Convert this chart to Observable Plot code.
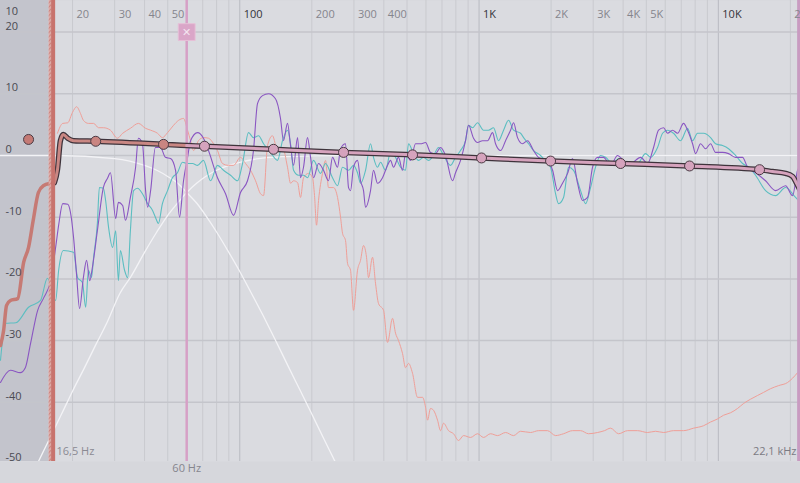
<!DOCTYPE html>
<html><head><meta charset="utf-8">
<script src="https://cdn.jsdelivr.net/npm/d3@7"></script>
<script src="https://cdn.jsdelivr.net/npm/@observablehq/plot@0.6"></script>
<style>html,body{margin:0;padding:0;background:#d6d7dc;overflow:hidden}</style>
</head><body><div id="chart"></div>
<script>
// ---- tick labels / grid ----
const xLabelMinor = [[20,"20"],[30,"30"],[40,"40"],[50,"50"],[200,"200"],[300,"300"],[400,"400"],[2000,"2K"],[3000,"3K"],[4000,"4K"],[5000,"5K"],[20000,"20K"]];
const xLabelMajor = [[100,"100"],[1000,"1K"],[10000,"10K"]];
const xGridMinor = [20,30,40,50,70,80,90,200,300,400,500,600,700,800,900,2000,3000,4000,5000,6000,7000,8000,9000,20000];
const xGridMajor = [100,1000,10000];
const yGrid = [20,10,0,-10,-20,-30,-40];
const yLabels = [20,10,0,-10,-20,-30,-40,-50];
const topCornerLabel = ["10"];
const crossoverHz = [60];
const lowLimitHz = 16.5, highLimitHz = 22050;

// ---- series: [Hz, dB] ----
const purple = [[10.0,-36.8],[11.0,-34.8],[12.1,-35.2],[12.7,-34.4],[13.35,-30.5],[14.3,-25.1],[15.1,-23.2],[16.2,-20.3],[17.0,-14.9],[17.5,-11.3],[18.2,-7.8],[19.1,-7.9],[19.6,-9.2],[20.2,-13.3],[20.8,-19.4],[21.4,-24.8],[22.2,-19.8],[22.9,-17.0],[23.6,-20.3],[24.2,-18.2],[25.4,-12.2],[26.9,-5.2],[28.0,-3.7],[28.8,-2.8],[30.3,-10.2],[31.1,-7.6],[32.4,-8.1],[33.3,-10.5],[34.9,-6.8],[36.7,-1.9],[37.7,2.8],[39.2,1.9],[40.4,-5.7],[41.2,-8.4],[42.4,-5.7],[44.4,1.3],[46.6,1.3],[48.9,-0.3],[51.4,-0.5],[53.9,-2.4],[56.0,-10.0],[58.2,-4.1],[60.5,-0.3],[62.3,2.4],[66.6,3.7],[70.5,2.8],[74.0,0.8],[80.7,-3.6],[87.2,-6.2],[94.2,-9.7],[100.7,-6.0],[107.7,-4.1],[114.1,0.8],[118.6,8.4],[124.5,9.7],[131.9,10.0],[141.0,9.2],[148.0,6.0],[152.3,2.4],[158.3,5.2],[163.0,1.6],[167.8,-1.6],[174.4,2.9],[179.4,-3.6],[184.7,-1.9],[191.9,2.9],[197.6,-0.3],[203.4,-3.6],[213.4,-1.3],[223.9,-2.4],[234.9,-4.1],[244.1,-0.3],[256.2,-1.9],[263.7,1.1],[276.7,1.9],[284.8,-5.2],[290.3,-5.7],[298.8,-1.9],[310.5,-0.8],[319.6,-4.1],[329.0,-5.7],[335.4,-8.4],[351.9,-5.7],[362.2,-2.4],[376.4,-4.5],[395.0,-3.6],[414.5,-1.6],[426.6,-0.8],[439.1,-1.9],[460.7,-0.3],[478.8,-2.4],[492.9,0.3],[517.2,-0.8],[542.7,1.9],[569.4,1.9],[597.5,2.1],[626.9,0.5],[657.8,0.3],[690.3,1.3],[724.3,0.0],[774.7,-4.1],[797.5,-2.8],[836.8,-0.8],[878.1,2.4],[903.7,4.9],[948.3,2.8],[985.5,2.1],[1034,2.4],[1085,2.4],[1139,3.7],[1172,1.9],[1230,0.8],[1291,2.4],[1354,4.1],[1394,5.3],[1448,2.9],[1520,1.9],[1595,2.4],[1689,0.8],[1772,-0.3],[1933,-0.8],[2029,-2.4],[2129,-5.7],[2233,-4.5],[2344,-2.9],[2459,-0.5],[2580,-4.5],[2707,-7.3],[2841,-6.8],[2981,-1.9],[3128,-0.3],[3313,-0.3],[3545,-1.6],[3792,0.0],[4017,-0.8],[4297,-1.3],[4731,-0.3],[5061,-1.3],[5362,1.3],[5626,4.1],[5904,4.5],[6136,3.6],[6438,4.1],[6755,3.6],[7157,5.2],[7438,4.1],[7804,1.9],[8032,0.3],[8429,1.9],[8845,1.1],[9280,1.9],[9738,0.5],[10416,0.5],[11035,0.3],[11805,-0.3],[12626,-0.3],[13249,-1.9],[14310,-2.8],[15756,-4.1],[17348,-5.7],[19100,-4.9],[20431,-6.5],[21439,-2.4],[22000,-1.6]];

const teal = [[10.0,-33.2],[10.5,-27.2],[11.6,-27.1],[13.1,-24.6],[14.7,-23.5],[15.7,-19.9],[17.0,-23.5],[17.5,-18.6],[18.3,-15.4],[20.2,-15.7],[21.0,-19.8],[22.0,-20.6],[22.7,-24.6],[23.3,-18.6],[24.0,-19.8],[24.5,-16.5],[25.4,-11.0],[25.9,-5.2],[26.9,-5.3],[27.5,-7.3],[28.3,-11.7],[29.4,-14.9],[30.3,-12.2],[31.1,-20.3],[31.7,-15.4],[33.0,-18.6],[34.0,-19.8],[34.9,-12.2],[36.0,-5.7],[37.4,-5.3],[39.2,-6.2],[41.2,-7.8],[43.2,-8.9],[44.4,-10.0],[45.7,-11.0],[47.5,-7.8],[49.9,-5.7],[52.3,-3.6],[54.9,-2.8],[57.6,-1.1],[60.5,-1.3],[63.5,-1.3],[66.6,-1.6],[70.5,-0.8],[75.5,-4.1],[80.7,-1.6],[85.5,-2.4],[91.5,-3.2],[97.9,-4.1],[102.7,-1.3],[108.8,3.7],[114.1,2.9],[119.8,3.2],[125.7,1.9],[134.4,0.5],[143.8,-0.8],[150.9,2.4],[158.3,4.1],[163.0,1.9],[167.8,-2.4],[176.0,-3.2],[184.7,-3.2],[191.9,-3.6],[203.4,-0.8],[217.5,-2.9],[228.2,-1.3],[244.1,-3.6],[256.2,-4.9],[268.8,-1.9],[284.8,-2.4],[298.8,-1.6],[310.5,-2.8],[319.6,-4.5],[335.4,-2.4],[351.9,1.9],[362.2,-0.3],[376.4,-1.9],[387.5,-1.1],[406.6,-2.4],[426.6,0.5],[447.6,-0.3],[469.7,-1.9],[492.9,-2.4],[507.3,1.9],[532.4,0.3],[558.6,-0.8],[586.1,-0.3],[615.0,-0.8],[645.3,0.0],[677.1,1.3],[710.5,0.0],[760.0,-1.6],[797.5,-0.3],[836.8,0.8],[878.1,2.4],[903.7,4.9],[939.2,4.5],[985.5,5.3],[1044,4.1],[1095,4.1],[1150,4.5],[1206,2.4],[1266,4.1],[1328,5.7],[1394,4.1],[1491,3.6],[1535,2.9],[1610,1.9],[1689,0.8],[1807,0.0],[1933,-1.3],[1990,-1.9],[2088,-6.2],[2149,-7.8],[2255,-6.8],[2366,-1.9],[2483,-2.4],[2656,-5.7],[2787,-7.8],[2924,-5.2],[3068,-1.9],[3219,0.0],[3378,-0.3],[3614,-1.3],[3829,-0.5],[4175,-1.3],[4596,-1.3],[4964,0.3],[5209,-0.3],[5572,1.3],[5847,3.6],[6136,4.1],[6500,3.6],[6953,2.4],[7438,4.4],[7804,2.4],[8188,3.6],[8676,3.6],[9280,2.9],[9738,1.9],[10416,1.6],[11035,1.1],[11805,0.0],[12626,-1.3],[13377,-1.9],[14310,-3.2],[15756,-5.7],[17348,-6.5],[19100,-5.2],[21030,-6.8],[22000,-7.6]];

const reference = [[17.3,3.6],[18.2,5.2],[19.1,5.3],[20.0,7.0],[20.8,7.9],[21.6,6.8],[22.2,5.7],[23.3,5.2],[24.5,5.2],[25.7,4.5],[26.9,4.5],[28.8,4.1],[30.8,2.8],[32.4,3.6],[34.9,4.4],[37.7,5.2],[40.4,4.4],[42.4,4.1],[45.3,3.6],[47.5,2.9],[49.9,3.7],[52.9,4.9],[55.5,5.7],[58.2,6.0],[60.5,4.1],[62.3,2.4],[64.1,0.8],[67.2,2.4],[70.5,2.9],[74.0,2.8],[77.7,1.9],[80.7,0.8],[84.7,-1.3],[89.7,-1.6],[94.2,-1.6],[100.7,-0.3],[105.7,-1.3],[110.9,-2.4],[116.4,-4.1],[122.1,-6.2],[125.7,-6.5],[130.6,1.6],[137.0,3.2],[143.8,0.8],[150.9,1.3],[158.3,-1.9],[163.0,-4.5],[167.8,-4.1],[174.4,-4.4],[179.4,-6.8],[184.7,-3.6],[193.8,-2.9],[201.4,-3.6],[205.3,-6.5],[209.3,-11.3],[213.4,-7.3],[221.7,-2.9],[228.2,-0.8],[234.9,-5.2],[246.5,-5.2],[256.2,-6.8],[263.7,-10.0],[268.8,-12.6],[276.7,-13.8],[282.1,-17.5],[290.3,-18.6],[298.8,-25.1],[310.5,-18.6],[319.6,-17.0],[329.0,-14.6],[338.6,-16.5],[345.2,-19.8],[358.7,-16.5],[369.2,-20.7],[380.1,-24.0],[398.9,-25.1],[414.5,-30.3],[434.9,-26.4],[447.6,-28.8],[460.7,-30.0],[478.8,-32.1],[492.9,-34.4],[507.3,-33.7],[527.2,-35.3],[553.2,-39.2],[580.4,-39.2],[597.5,-40.8],[609.1,-42.9],[626.9,-41.0],[645.3,-41.3],[670.6,-42.9],[690.3,-44.6],[710.5,-43.4],[745.5,-44.6],[782.3,-45.1],[820.8,-46.2],[861.3,-45.4],[921.3,-45.7],[985.5,-45.1],[1044,-45.7],[1117,-45.1],[1195,-45.4],[1291,-44.9],[1394,-45.4],[1491,-44.7],[1641,-44.9],[1772,-44.6],[1933,-44.6],[2088,-45.4],[2255,-45.1],[2459,-44.6],[2656,-44.6],[2868,-45.1],[3128,-44.9],[3345,-44.6],[3545,-44.2],[3829,-45.1],[4175,-44.6],[4596,-44.6],[5061,-44.9],[5466,-44.7],[5904,-44.9],[6500,-44.6],[7157,-44.6],[7879,-44.2],[8676,-43.8],[9280,-43.2],[9927,-42.7],[10517,-42.1],[11250,-41.7],[12034,-41.0],[12749,-40.2],[13638,-39.5],[14588,-38.9],[15456,-38.4],[16533,-37.8],[17856,-37.3],[19471,-36.8],[20431,-36.1],[21439,-35.2]];

const lowpass = [[10,0],[17,0],[30,-0.5],[40,-1.6],[45,-2.4],[50,-3.4],[55,-4.5],[60,-6.0],[66,-7.7],[72,-9.7],[80,-12.4],[90,-15.7],[100,-18.8],[110,-21.8],[125,-25.9],[140,-29.7],[160,-34.3],[180,-38.3],[200,-41.9],[225,-46.0],[250,-49.6],[260,-51.0]];
const highpass = [[14,-50.6],[15,-48.2],[16,-46.0],[18,-41.9],[20,-38.2],[22.5,-34.3],[25,-30.7],[28,-26.9],[31.5,-22.4],[35,-19.7],[40,-15.7],[45,-12.4],[50,-9.7],[55,-7.7],[60,-6.0],[66,-4.5],[72,-3.4],[80,-2.4],[90,-1.6],[100,-1.1],[120,-0.5],[150,-0.2],[200,-0.07],[300,0],[22050,0]];

const eqBelowLimit = [[10.0,-30.8],[10.3,-28.4],[10.6,-24.3],[11.0,-23.5],[11.8,-23.2],[12.5,-17.3],[13.1,-14.9],[13.7,-10.5],[14.4,-6.0],[15.1,-4.9],[16.2,-4.5],[16.8,-4.4]];
const eqLowBand = [[16.8,-4.4],[17.3,-2.3],[17.8,2.4],[18.3,3.4],[19.1,2.8],[20.2,2.4],[25.0,2.3],[48.0,1.8],[60,1.6]];
const eqHighBand = [[60,1.6],[71.2,1.5],[138.3,1.0],[271.4,0.5],[527.2,0.1],[1024,-0.4],[1990,-0.9],[3903,-1.3],[7582,-1.7],[14872,-2.3],[16854,-2.6],[19100,-2.9],[20431,-3.4],[21233,-4.5],[22000,-5.7]];
const nodesLow = [[25.0,2.3],[48.0,1.8]];
const nodesHigh = [[71.2,1.5],[138.3,1.0],[271.4,0.5],[527.2,0.1],[1024,-0.4],[1990,-0.9],[3903,-1.3],[7582,-1.7],[14872,-2.3]];
const looseNode = [[13.1,2.6]];

// ---- zones (Hz) ----
const belowZone = [{from:10, to:15.96}];
const hatchZone = [{from:15.96, to:16.35}];
const limitBar = [{from:16.35, to:17.0}];
const topBar = [{from:21450, to:22050}];

const rows = a => a.map(([hz, db]) => ({hz, db}));
const Y0 = -49.6, Y1 = 25.12;
const font = "'Open Sans', 'Noto Sans', sans-serif";

const chart = Plot.plot({
  width: 800, height: 483,
  marginTop: 0, marginRight: 0, marginBottom: 22, marginLeft: 0,
  style: {background: "#d6d7dc", fontFamily: font, fontSize: "11px"},
  x: {type: "log", domain: [10, 22050], axis: null},
  y: {domain: [Y0, Y1], axis: null},
  marks: [
    Plot.frame({fill: "#dadbe0", stroke: "none"}),
    Plot.rect(belowZone, {x1: "from", x2: "to", y1: () => Y0, y2: () => Y1, fill: "#c3c4cc"}),
    Plot.ruleX(xGridMinor, {stroke: "#c9cacf", strokeWidth: 1}),
    Plot.ruleX(xGridMajor, {stroke: "#b9bac1", strokeWidth: 1}),
    Plot.ruleY(yGrid, {stroke: "#c4c5cb", strokeWidth: 1.5}),
    Plot.line(rows(lowpass), {x: "hz", y: "db", stroke: "#f3f3f6", strokeWidth: 1.3, curve: "monotone-x", clip: true}),
    Plot.line(rows(highpass), {x: "hz", y: "db", stroke: "#f3f3f6", strokeWidth: 1.3, curve: "monotone-x", clip: true}),
    Plot.line(rows(reference), {x: "hz", y: "db", stroke: "#ef9f98", strokeWidth: 1, curve: "monotone-x", clip: true}),
    Plot.line(rows(teal), {x: "hz", y: "db", stroke: "#5cbec1", strokeWidth: 1.1, curve: "monotone-x", clip: true}),
    Plot.line(rows(purple), {x: "hz", y: "db", stroke: "#8a56c2", strokeWidth: 1.1, curve: "monotone-x", clip: true}),
    Plot.ruleX(crossoverHz, {stroke: "#d6a0c6", strokeWidth: 2.5}),
    Plot.line(rows(eqBelowLimit), {x: "hz", y: "db", stroke: "#c67a74", strokeWidth: 3.5, curve: "monotone-x"}),
    Plot.line(rows(eqLowBand.concat(eqHighBand.slice(1))), {x: "hz", y: "db", stroke: "#3e333b", strokeWidth: 5.5, curve: "monotone-x", strokeLinejoin: "round"}),
    Plot.line(rows(eqLowBand), {x: "hz", y: "db", stroke: "#c98783", strokeWidth: 3, curve: "monotone-x"}),
    Plot.line(rows(eqHighBand), {x: "hz", y: "db", stroke: "#d6a3bd", strokeWidth: 3, curve: "monotone-x"}),
    Plot.dot(rows(nodesLow), {x: "hz", y: "db", r: 5, fill: "#c98581", stroke: "#4a3b44", strokeWidth: 1}),
    Plot.dot(rows(nodesHigh), {x: "hz", y: "db", r: 5, fill: "#d5a3bd", stroke: "#4a3b44", strokeWidth: 1}),
    Plot.dot(rows(looseNode), {x: "hz", y: "db", r: 5, fill: "#c47a75", stroke: "#4a3b44", strokeWidth: 1}),
    Plot.rect(hatchZone, {x1: "from", x2: "to", y1: () => Y0, y2: () => Y1, fill: "url(#hatch)"}),
    Plot.rect(limitBar, {x1: "from", x2: "to", y1: () => Y0, y2: () => Y1, fill: "#c8736d"}),
    Plot.rect(topBar, {x1: "from", x2: "to", y1: () => Y0, y2: () => Y1, fill: "#c99bc1"}),
    Plot.dot(crossoverHz, {x: d => d, y: () => 20, symbol: "square", r: 9.5, fill: "#daa6c8", stroke: "#e6bfd7", strokeWidth: 1}),
    Plot.text(crossoverHz, {x: d => d, y: () => 20, text: () => "✕", fill: "#f4e4ef", fontSize: 11}),
    // labels
    Plot.text(xLabelMinor, {x: d => d[0], text: d => d[1], frameAnchor: "top", dy: 10, dx: 4, textAnchor: "start", fill: "#85858d", fontSize: 11}),
    Plot.text(xLabelMajor, {x: d => d[0], text: d => d[1], frameAnchor: "top", dy: 10, dx: 4, textAnchor: "start", fill: "#33333a", fontSize: 11}),
    Plot.text(yLabels, {y: d => d, text: d => String(d), frameAnchor: "left", dx: 5, dy: -6, textAnchor: "start", fill: "#4a4a52", fontSize: 11}),
    Plot.text(topCornerLabel, {text: d => d, frameAnchor: "top-left", dx: 5, dy: 7, textAnchor: "start", fill: "#4a4a52", fontSize: 11}),
    Plot.text([lowLimitHz], {x: d => d, text: () => "16,5 Hz", frameAnchor: "bottom", dx: 4, dy: -7, textAnchor: "start", fill: "#8a8a93", fontSize: 11}),
    Plot.text([highLimitHz], {x: d => d, text: () => "22,1 kHz", frameAnchor: "bottom", dx: -4, dy: -7, textAnchor: "end", fill: "#7a7a83", fontSize: 11}),
    Plot.text(crossoverHz, {x: d => d, text: d => d + " Hz", frameAnchor: "bottom", dy: 10, textAnchor: "middle", fill: "#85858d", fontSize: 11})
  ]
});
// hatch pattern for the limit band
const ns = "http://www.w3.org/2000/svg";
const defs = document.createElementNS(ns, "defs");
defs.innerHTML = '<pattern id="hatch" width="3" height="3" patternUnits="userSpaceOnUse" patternTransform="rotate(45)"><rect width="3" height="3" fill="#dcaaa6"/><line x1="0" y1="0" x2="0" y2="3" stroke="#c8736d" stroke-width="1.4"/></pattern>';
chart.insertBefore(defs, chart.firstChild);
document.getElementById("chart").appendChild(chart);
</script>
</body></html>
